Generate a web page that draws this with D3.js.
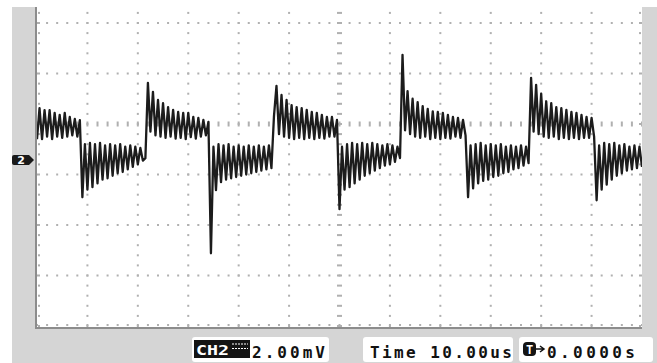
<!DOCTYPE html>
<html>
<head>
<meta charset="utf-8">
<script src="https://cdn.jsdelivr.net/npm/d3@7"></script>
<style>
  html, body { margin: 0; padding: 0; background: #fff; }
  svg { display: block; }
</style>
</head>
<body>
<svg id="scope" width="657" height="363"></svg>
<script>
// ---- CH2 acquisition: one sample every 0.5 us, values in mV ----
const sampleStepUs = 0.5;
const ch2Trace = [
  // high (0 .. 8.5 us)
  -0.6, 0.63, -0.6, 0.55, -0.5, 0.55, -0.6, 0.44, -0.5, 0.36, -0.55, 0.44, -0.5, 0.28, -0.45, 0.2, -0.5, 0.15,
  // low
  -2.9, -0.8, -2.6, -0.75, -2.5, -0.8, -2.35, -0.75, -2.2, -0.85, -2.15, -0.8, -2.05, -0.85, -1.95, -0.8, -1.9, -0.9, -1.8, -0.85, -1.7, -0.9, -1.6, -0.95, -1.45, -1.35,
  // high
  1.63, -0.3, 1.27, -0.45, 0.95, -0.5, 0.83, -0.55, 0.67, -0.5, 0.56, -0.58, 0.48, -0.55, 0.44, -0.6, 0.44, -0.52, 0.28, -0.58, 0.24, -0.5, 0.16, -0.45, 0.08,
  // low
  -5.12, -0.9, -2.62, -0.8, -2.3, -0.85, -2.2, -0.8, -2.15, -0.9, -2.1, -0.85, -2.05, -0.9, -2.0, -0.85, -1.95, -0.9, -1.9, -0.85, -1.85, -0.9, -1.8, -0.85, -1.75, 0.3,
  // high
  1.51, -0.4, 1.15, -0.5, 0.95, -0.55, 0.75, -0.6, 0.67, -0.55, 0.63, -0.6, 0.56, -0.55, 0.48, -0.6, 0.44, -0.55, 0.36, -0.58, 0.28, -0.5, 0.28, -0.5, 0.16,
  // low
  -3.37, -0.9, -2.6, -0.8, -2.5, -0.75, -2.35, -0.8, -2.2, -0.75, -2.05, -0.8, -1.95, -0.75, -1.85, -0.8, -1.75, -0.85, -1.65, -0.8, -1.6, -0.85, -1.5, -0.9, -1.35,
  // high
  2.74, -0.25, 1.3, -0.4, 1.0, -0.5, 0.87, -0.55, 0.71, -0.5, 0.6, -0.6, 0.5, -0.55, 0.48, -0.6, 0.44, -0.55, 0.36, -0.58, 0.28, -0.5, 0.24, -0.55, 0.16, -0.45,
  // low
  -2.9, -0.85, -2.55, -0.8, -2.35, -0.75, -2.25, -0.85, -2.2, -0.8, -2.1, -0.85, -2.05, -0.8, -1.95, -0.9, -1.9, -0.85, -1.8, -0.9, -1.75, -0.85, -1.65, -0.9, -1.55,
  // high
  1.83, -0.3, 1.55, -0.4, 1.2, -0.5, 0.9, -0.55, 0.83, -0.5, 0.67, -0.6, 0.63, -0.55, 0.56, -0.6, 0.48, -0.55, 0.44, -0.6, 0.36, -0.55, 0.28, -0.55, 0.24, -0.5,
  // low (to 120 us)
  -3.02, -0.85, -2.6, -0.75, -2.4, -0.8, -2.2, -0.75, -2.05, -0.85, -1.95, -0.8, -1.85, -0.9, -1.8, -0.85, -1.75, -0.9, -1.7
];

// ---- graticule: 10 us/div horizontally, 2 mV/div vertically ----
const timeDivsUs = [0, 10, 20, 30, 40, 50, 60, 70, 80, 90, 100, 110, 120];
const voltDivsMV = [-8, -6, -4, -2, 0, 2, 4, 6, 8];
const minorPerDiv = 5;
const ch2GroundMV = -1.43;

// ---- status line ----
const ch2Scale = "2.00mV";
const timeBase = "Time 10.00us";
const trigPosition = "0.0000s";

const svg = d3.select("#scope");
const W = 657, H = 363;
const screen = { left: 37, right: 642, top: 7, bottom: 327 };

const x = d3.scaleLinear().domain([0, 120]).range([screen.left, screen.right]);
const y = d3.scaleLinear().domain([-8, 8]).range([326, -78]);

// outer frame
svg.append("rect").attr("width", W).attr("height", H).attr("fill", "#ffffff");
svg.append("rect").attr("x", 12).attr("y", 7).attr("width", W - 12).attr("height", H - 7).attr("fill", "#d5d5d5");
svg.append("rect")
  .attr("x", screen.left).attr("y", screen.top)
  .attr("width", screen.right - screen.left).attr("height", screen.bottom - screen.top)
  .attr("fill", "#ffffff");

svg.append("clipPath").attr("id", "screenClip")
  .append("rect")
  .attr("x", screen.left).attr("y", screen.top)
  .attr("width", screen.right - screen.left).attr("height", screen.bottom - screen.top);

const grid = svg.append("g").attr("clip-path", "url(#screenClip)").attr("fill", "#b0b0b0");
const tStep = (timeDivsUs[1] - timeDivsUs[0]) / minorPerDiv;
const vStep = (voltDivsMV[1] - voltDivsMV[0]) / minorPerDiv;
const tMinor = d3.range(0, 120 + tStep / 2, tStep);
const vMinor = d3.range(-8, 8 + vStep / 2, vStep);

// horizontal dotted lines (centre line carries tick dashes)
voltDivsMV.forEach(v => {
  if (v === -8) return;
  const yy = y(v);
  grid.selectAll(null).data(tMinor).enter().append("rect")
    .attr("x", t => x(t) - 1)
    .attr("y", v === 0 ? yy - 2.5 : yy - 1)
    .attr("width", 2)
    .attr("height", v === 0 ? 5 : 2);
});

// vertical dotted lines (centre line carries tick dashes)
timeDivsUs.forEach(t => {
  if (t === 0 || t === 120) return;
  const xx = x(t);
  grid.selectAll(null).data(vMinor).enter().append("rect")
    .attr("x", t === 60 ? xx - 2.5 : xx - 1)
    .attr("y", v => y(v) - 1)
    .attr("width", t === 60 ? 5 : 2)
    .attr("height", 2);
});

// edge ticks
grid.selectAll(null).data(vMinor).enter().append("rect")
  .attr("x", x(0) + 1).attr("y", v => y(v) - 1).attr("width", 2).attr("height", 2);
grid.selectAll(null).data(vMinor).enter().append("rect")
  .attr("x", x(120) - 3).attr("y", v => y(v) - 1).attr("width", 2).attr("height", 2);
grid.selectAll(null).data(tMinor).enter().append("rect")
  .attr("x", t => x(t) - 1).attr("y", y(-8) - 2).attr("width", 2).attr("height", 2);

// screen border (left and bottom)
svg.append("path")
  .attr("d", `M${screen.left - 1},${screen.top} V${screen.bottom + 1} H${screen.right}`)
  .attr("fill", "none").attr("stroke", "#8c8c8c").attr("stroke-width", 2);

// CH2 trace
const line = d3.line()
  .x((d, i) => x(i * sampleStepUs))
  .y(d => y(d));
svg.append("path")
  .datum(ch2Trace)
  .attr("clip-path", "url(#screenClip)")
  .attr("d", line)
  .attr("fill", "none")
  .attr("stroke", "#1c1c1c")
  .attr("stroke-width", 2.3)
  .attr("stroke-linejoin", "round");

// CH2 ground marker
const gy = y(ch2GroundMV);
svg.append("path")
  .attr("d", `M14,${gy - 5} H29 L34,${gy} L29,${gy + 5} H14 Q12,${gy + 5} 12,${gy + 3} V${gy - 3} Q12,${gy - 5} 14,${gy - 5} Z`)
  .attr("fill", "#1a1a1a");
svg.append("text")
  .attr("x", 21).attr("y", gy + 4)
  .attr("text-anchor", "middle")
  .attr("font-family", "DejaVu Sans, sans-serif")
  .attr("font-weight", "bold")
  .attr("font-size", 11)
  .attr("fill", "#ffffff")
  .text("2");

// status line
const mono = "'DejaVu Sans Mono', 'Liberation Mono', monospace";
const status = svg.append("g");
const boxes = [
  { x: 192, w: 137 },
  { x: 363, w: 150 },
  { x: 519, w: 134 }
];
status.selectAll("rect.box").data(boxes).enter().append("rect")
  .attr("class", "box")
  .attr("x", d => d.x).attr("y", 337).attr("width", d => d.w).attr("height", 25)
  .attr("rx", 3).attr("fill", "#ffffff");

// CH2 badge with coupling symbol
status.append("rect").attr("x", 194).attr("y", 340).attr("width", 56).attr("height", 18).attr("fill", "#141414");
status.append("text")
  .attr("x", 196).attr("y", 355)
  .attr("font-family", mono).attr("font-weight", "bold").attr("font-size", 14)
  .attr("textLength", 33).attr("lengthAdjust", "spacingAndGlyphs")
  .attr("fill", "#ffffff").text("CH2");
[344, 348.5].forEach(yy => {
  status.append("line").attr("x1", 232).attr("x2", 248).attr("y1", yy).attr("y2", yy)
    .attr("stroke", "#ffffff").attr("stroke-width", 1).attr("stroke-dasharray", "2,1");
});
status.append("text")
  .attr("x", 252).attr("y", 358)
  .attr("font-family", mono).attr("font-weight", "bold").attr("font-size", 16)
  .attr("textLength", 73).attr("lengthAdjust", "spacing")
  .attr("fill", "#111").text(ch2Scale);

status.append("text")
  .attr("x", 370).attr("y", 358)
  .attr("font-family", mono).attr("font-weight", "bold").attr("font-size", 16)
  .attr("textLength", 142).attr("lengthAdjust", "spacing")
  .attr("fill", "#111").text(timeBase);

// trigger position: T badge, arrow, value
status.append("rect").attr("x", 523).attr("y", 342).attr("width", 13).attr("height", 14).attr("rx", 4).attr("fill", "#141414");
status.append("text")
  .attr("x", 529.5).attr("y", 354)
  .attr("text-anchor", "middle")
  .attr("font-family", mono).attr("font-weight", "bold").attr("font-size", 12)
  .attr("fill", "#ffffff").text("T");
status.append("path")
  .attr("d", "M536,349 H543 M540,346 L544,349 L540,352")
  .attr("fill", "none").attr("stroke", "#111").attr("stroke-width", 1.5);
status.append("text")
  .attr("x", 547).attr("y", 358)
  .attr("font-family", mono).attr("font-weight", "bold").attr("font-size", 16)
  .attr("textLength", 88).attr("lengthAdjust", "spacing")
  .attr("fill", "#111").text(trigPosition);
</script>
</body>
</html>
